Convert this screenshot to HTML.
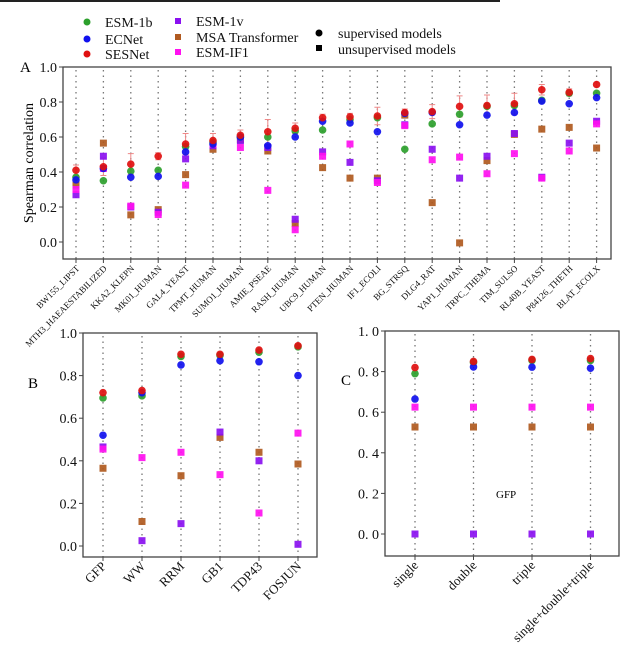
<!DOCTYPE html>
<html><head><meta charset="utf-8">
<style>
html,body{margin:0;padding:0;background:#fff;}
svg{display:block;font-family:"Liberation Serif",serif;}
</style></head>
<body>
<svg id="chart" width="640" height="655" viewBox="0 0 640 655" xmlns="http://www.w3.org/2000/svg">
<line x1="0" y1="1" x2="500" y2="1" stroke="#222" stroke-width="2"/>
<g font-size="14" fill="#111">
  <g><circle cx="87" cy="22" r="3.5" fill="#2ca02c"/><text x="105" y="27">ESM-1b</text></g>
  <g><circle cx="87" cy="39" r="3.5" fill="#1010ee"/><text x="105" y="44">ECNet</text></g>
  <g><circle cx="87" cy="54" r="3.5" fill="#e01010"/><text x="105" y="59">SESNet</text></g>
  <g><rect x="175" y="18" width="6" height="6" fill="#8a10f0"/><text x="196" y="26">ESM-1v</text></g>
  <g><rect x="175" y="34" width="6" height="6" fill="#b05a20"/><text x="196" y="42">MSA Transformer</text></g>
  <g><rect x="175" y="49" width="6" height="6" fill="#ff10f0"/><text x="196" y="57">ESM-IF1</text></g>
  <g><circle cx="319" cy="33" r="3.5" fill="#000"/><text x="338" y="38">supervised models</text></g>
  <g><rect x="316" y="45" width="6" height="6" fill="#000"/><text x="338" y="54">unsupervised models</text></g>
</g>
<text x="20" y="72" font-size="15">A</text>
<text x="28" y="388" font-size="15">B</text>
<text x="341" y="385" font-size="15">C</text>
<text x="496" y="498" font-size="11">GFP</text>
<text transform="translate(33,163) rotate(-90)" text-anchor="middle" font-size="14">Spearman correlation</text>
</svg>
<script>
// Panel A data
const catsA = ["BW155_LIPST","MTH3_HAEAESTABILIZED","KKA2_KLEPN","MK01_HUMAN","GAL4_YEAST","TPMT_HUMAN","SUMO1_HUMAN","AMIE_PSEAE","RASH_HUMAN","UBC9_HUMAN","PTEN_HUMAN","IF1_ECOLI","BG_STRSQ","DLG4_RAT","YAP1_HUMAN","TRPC_THEMA","TIM_SULSO","RL40B_YEAST","P84126_THETH","BLAT_ECOLX"];
const msaA   = [0.325,0.565,0.155,0.185,0.385,0.53,0.585,0.52,0.105,0.425,0.365,0.365,0.725,0.225,-0.005,0.465,0.615,0.645,0.655,0.537];
const esm1vA = [0.27,0.49,0.20,0.17,0.475,0.55,0.58,0.54,0.13,0.515,0.455,0.35,0.67,0.53,0.365,0.49,0.62,0.37,0.565,0.69];
const if1A   = [0.30,0.42,0.205,0.157,0.325,0.56,0.54,0.295,0.07,0.49,0.56,0.34,0.665,0.47,0.485,0.39,0.505,0.365,0.52,0.675];
const esm1bA = [0.37,0.35,0.405,0.41,0.545,0.57,0.60,0.60,0.635,0.64,0.70,0.71,0.53,0.675,0.73,0.775,0.78,0.81,0.85,0.85];
const ecnetA = [0.355,0.42,0.37,0.375,0.515,0.56,0.60,0.55,0.60,0.69,0.68,0.63,0.735,0.74,0.67,0.725,0.74,0.805,0.79,0.825];
const sesA   = [0.41,0.43,0.445,0.49,0.56,0.58,0.61,0.63,0.65,0.71,0.715,0.72,0.74,0.745,0.775,0.78,0.79,0.87,0.855,0.90];
const errA   = [0.03,0.05,0.06,0.02,0.06,0.04,0.03,0.07,0.03,0.02,0.02,0.05,0.02,0.04,0.06,0.06,0.06,0.03,0.02,0.01];
const ticksA = ["0.0","0.2","0.4","0.6","0.8","1.0"];
// Panel B data
const catsB = ["GFP","WW","RRM","GB1","TDP43","FOSJUN"];
const msaB   = [0.365,0.115,0.33,0.51,0.44,0.385];
const esm1vB = [0.465,0.025,0.105,0.535,0.40,0.008];
const if1B   = [0.455,0.415,0.44,0.335,0.155,0.53];
const esm1bB = [0.695,0.705,0.89,0.895,0.91,0.935];
const ecnetB = [0.52,0.72,0.85,0.87,0.865,0.80];
const sesB   = [0.72,0.73,0.90,0.90,0.92,0.94];
const ticksB = ["0.0","0.2","0.4","0.6","0.8","1.0"];
// Panel C data
const catsC = ["single","double","triple","single+double+triple"];
const msaC   = [0.527,0.527,0.527,0.527];
const esm1vC = [0.0,0.0,0.0,0.0];
const if1C   = [0.625,0.625,0.625,0.625];
const esm1bC = [0.79,0.845,0.855,0.855];
const ecnetC = [0.665,0.823,0.822,0.817];
const sesC   = [0.82,0.85,0.86,0.864];
const ticksC = ["0. 0","0. 2","0. 4","0. 6","0. 8","1. 0"];

const NS="http://www.w3.org/2000/svg";
const svg=document.getElementById('chart');
function mk(tag,attrs,parent){const e=document.createElementNS(NS,tag);for(const k in attrs)e.setAttribute(k,attrs[k]);(parent||svg).appendChild(e);return e;}
const COL={green:"#2ca02c",blue:"#1010ee",red:"#e01010",purple:"#8a10f0",brown:"#b05a20",mag:"#ff10f0"};

function panel(o){
  const g=mk('g',{});
  
  
  const yS=v=>o.y0-(v)*(o.y0-o.y1);
  const xS=i=>o.xf+i*o.dx;
  // dotted lines
  o.cats.forEach((c,i)=>{
    const l=mk('line',{x1:xS(i),x2:xS(i),y1:o.top+3,y2:o.bot,stroke:"#777","stroke-width":1.3,"stroke-dasharray":"1.5,4"},g);
    
    
  });
  // box
  const box=mk('rect',{x:o.left,y:o.top,width:o.right-o.left,height:o.bot-o.top,fill:"none",stroke:"#444","stroke-width":1.3},g);
  
  
  // y ticks
  o.ticks.forEach((t,i)=>{
    const v=i*0.2,y=yS(v);
    mk('line',{x1:o.left-4,x2:o.left,y1:y,y2:y,stroke:"#444"},g);
    const tx=mk('text',{x:o.left-6,y:y+5,"text-anchor":"end","font-size":o.tfs,fill:"#111"},g);
    tx.textContent=t;
    
    
  });
  // x labels
  o.cats.forEach((c,i)=>{
    const x=xS(i);
    mk('line',{x1:x,x2:x,y1:o.bot,y2:o.bot+4,stroke:"#444"},g);
    const tx=mk('text',{x:0,y:0,"text-anchor":"end","font-size":o.xfs,fill:"#111",transform:`translate(${x+4},${o.bot+10}) rotate(-45)`},g);
    tx.textContent=c;
    
    
  });
  const sq=(arr,col,nm)=>arr.forEach((v,i)=>{
    const r=mk('rect',{x:xS(i)-3.5,y:yS(v)-3.5,width:7,height:7,fill:col,opacity:0.92},g);
    
    
  });
  const ci=(arr,col,nm)=>arr.forEach((v,i)=>{
    const c=mk('circle',{cx:xS(i),cy:yS(v),r:3.8,fill:col,opacity:0.92},g);
    
    
  });
  if(o.err){o.ses.forEach((v,i)=>{
    const e=o.err[i],x=xS(i);
    const l=mk('path',{d:`M${x},${yS(v-e)}V${yS(v+e)}M${x-3},${yS(v+e)}H${x+3}M${x-3},${yS(v-e)}H${x+3}`,stroke:"#e88",fill:"none","stroke-width":1},g);
    
    
  });}
  sq(o.msa,COL.brown,'point-msa-transformer');
  sq(o.esm1v,COL.purple,'point-esm1v');
  sq(o.if1,COL.mag,'point-esm-if1');
  ci(o.esm1b,COL.green,'point-esm1b');
  ci(o.ecnet,COL.blue,'point-ecnet');
  ci(o.ses,COL.red,'point-sesnet');
}
panel({name:'panel-a',cats:catsA,msa:msaA,esm1v:esm1vA,if1:if1A,esm1b:esm1bA,ecnet:ecnetA,ses:sesA,err:errA,ticks:ticksA,
  left:63,right:611,top:67,bot:259,y0:242,y1:67,xf:76,dx:27.4,tfs:14,xfs:9});
panel({name:'panel-b',cats:catsB,msa:msaB,esm1v:esm1vB,if1:if1B,esm1b:esm1bB,ecnet:ecnetB,ses:sesB,ticks:ticksB,
  left:83,right:317,top:333,bot:557,y0:546,y1:333,xf:103,dx:39,tfs:14,xfs:13});
panel({name:'panel-c',cats:catsC,msa:msaC,esm1v:esm1vC,if1:if1C,esm1b:esm1bC,ecnet:ecnetC,ses:sesC,ticks:ticksC,
  left:385,right:619,top:331,bot:556,y0:534,y1:331,xf:415,dx:58.5,tfs:14,xfs:13});
</script>
</body></html>
